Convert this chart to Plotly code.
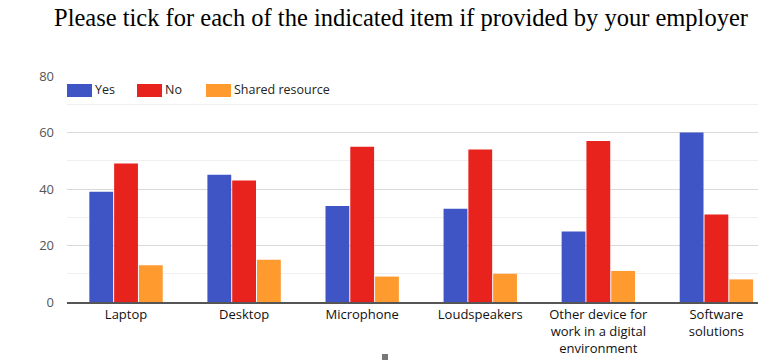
import plotly.graph_objects as go

categories = ["Laptop", "Desktop", "Microphone", "Loudspeakers",
              "Other device for<br>work in a digital<br>environment", "Software<br>solutions"]
yes_vals = [39, 45, 34, 33, 25, 60]
no_vals = [49, 43, 55, 54, 57, 31]
shared_vals = [13, 15, 9, 10, 11, 8]
series_names = ["Yes", "No", "Shared resource"]
colors = ["#3F55C6", "#E8221C", "#FF9A2E"]
y_ticks = [0, 20, 40, 60, 80]

fig = go.Figure()
for name, vals, col in zip(series_names, [yes_vals, no_vals, shared_vals], colors):
    fig.add_trace(go.Bar(x=categories, y=vals, name=name, marker_color=col,
                         marker_line_width=0, showlegend=False))

# page has an 8px body margin; work in page pixels and convert
OFF = 8
W, H = 766 - OFF, 360 - OFF
ml, mr, mt, mb = 67 - OFF, 0, 76 - OFF, 360 - 302
pw, ph = W - ml - mr, H - mt - mb

def px_x(x):
    return (x - OFF - ml) / pw

def px_y(y):
    return (H - mb - (y - OFF)) / ph

# manual legend with wide swatches
legend_items = [(67, "Yes"), (137, "No"), (206, "Shared resource")]
for (x0, label), col in zip(legend_items, colors):
    fig.add_shape(type="rect", xref="paper", yref="paper",
                  x0=px_x(x0), x1=px_x(x0 + 25), y0=px_y(97), y1=px_y(84),
                  fillcolor=col, line_width=0)
    fig.add_annotation(text=label, xref="paper", yref="paper", x=px_x(x0 + 26), y=px_y(89),
                       xanchor="left", yanchor="middle", showarrow=False,
                       font=dict(family="Open Sans, sans-serif", size=12.5, color="#222"))

# small grey mark below the chart
fig.add_shape(type="rect", xref="paper", yref="paper",
              x0=px_x(382), x1=px_x(388), y0=px_y(360), y1=px_y(354),
              fillcolor="#777777", line_width=0)

fig.update_layout(
    width=W, height=H,
    margin=dict(l=ml, r=mr, t=mt, b=mb, autoexpand=False),
    paper_bgcolor="white", plot_bgcolor="white",
    barmode="group", bargap=0.37, bargroupgap=0.04,
    title=dict(text="Please tick for each of the indicated item if provided by your employer",
               x=(401 - OFF) / W, xanchor="center", y=1, yanchor="top", pad=dict(t=1),
               font=dict(family="Liberation Serif, Times New Roman, serif", size=24.5, color="black")),
    xaxis=dict(range=[-0.5, 5.42], showgrid=False, showline=True, linecolor="#555555", linewidth=1.5,
               ticks="", automargin=False,
               tickfont=dict(family="Open Sans, sans-serif", size=13, color="#111")),
    yaxis=dict(range=[0, 80], tickvals=y_ticks, showgrid=True, gridcolor="#d9d9d9", gridwidth=1,
               zeroline=False, showline=False, ticks="", ticklabelstandoff=12, automargin=False,
               minor=dict(dtick=10, showgrid=True, gridcolor="#efefef", gridwidth=1),
               tickfont=dict(family="Open Sans, sans-serif", size=13, color="#555")),
)

fig.write_html("out.html", config={"displayModeBar": False})
